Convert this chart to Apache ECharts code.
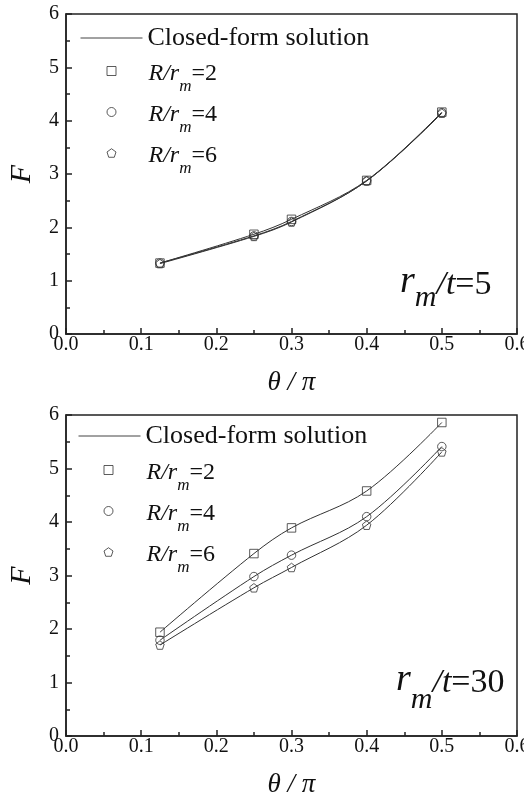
<!DOCTYPE html>
<html><head><meta charset="utf-8">
<script src="https://cdn.jsdelivr.net/npm/echarts@6/dist/echarts.min.js"></script>
<style>html,body{margin:0;padding:0;background:#fff;overflow:hidden}#c{width:524px;height:800px}</style>
</head><body><div id="c"></div>
<script>
// ---- data ----
const thetaX = [0.125, 0.25, 0.3, 0.4, 0.5];
const top_R2 = [1.33, 1.87, 2.15, 2.88, 4.16];
const top_R4 = [1.33, 1.84, 2.11, 2.87, 4.15];
const top_R6 = [1.32, 1.83, 2.10, 2.87, 4.14];
const bot_R2 = [1.94, 3.41, 3.89, 4.58, 5.86];
const bot_R4 = [1.79, 2.98, 3.38, 4.10, 5.41];
const bot_R6 = [1.70, 2.77, 3.15, 3.94, 5.31];
const xTickLabels = ['0.0', '0.1', '0.2', '0.3', '0.4', '0.5', '0.6'];
const yTickLabels = ['0', '1', '2', '3', '4', '5', '6'];
const ratioNames = ['R2', 'R4', 'R6'];
const ratioValues = ['2', '4', '6'];
const panelRatio = ['5', '30'];
const lineName = 'Closed-form solution';

const SERIF = 'Liberation Serif';
const INK = '#111';
const pentagon = 'path://M0,-10 L9.51,-3.09 L5.88,8.09 L-5.88,8.09 L-9.51,-3.09 Z';
const symbols = ['rect', 'circle', pentagon];

function pairs(ys) { return thetaX.map((x, i) => [x, ys[i]]); }

const panels = [[top_R2, top_R4, top_R6], [bot_R2, bot_R4, bot_R6]];
const gridPos = [{ top: 14, height: 320 }, { top: 415, height: 321 }];

const grids = [], xAxes = [], yAxes = [], series = [];
gridPos.forEach((g, gi) => {
  grids.push({ left: 66, right: 7, top: g.top, height: g.height, show: true,
    containLabel: false, outerBoundsMode: 'none',
    borderColor: '#222', borderWidth: 1.5, backgroundColor: 'transparent' });
  xAxes.push({
    gridIndex: gi, type: 'value', min: 0, max: 0.6, interval: 0.1,
    name: 'θ / π', nameLocation: 'middle', nameGap: 35,
    nameTextStyle: { fontFamily: SERIF, fontStyle: 'italic', fontSize: 27, color: INK },
    axisLine: { show: true, lineStyle: { color: '#222', width: 1.5 } },
    axisTick: { show: true, inside: true, length: 6, lineStyle: { color: '#222', width: 1.5 } },
    minorTick: { show: true, splitNumber: 2, length: 4, lineStyle: { color: '#222', width: 1.5 } },
    splitLine: { show: false },
    axisLabel: { margin: 1, fontFamily: SERIF, fontSize: 20, color: INK, hideOverlap: false,
      formatter: v => xTickLabels[Math.round(v * 10)] }
  });
  yAxes.push({
    gridIndex: gi, type: 'value', min: 0, max: 6, interval: 1,
    name: 'F', nameLocation: 'middle', nameGap: 29, nameRotate: 90,
    nameTextStyle: { fontFamily: SERIF, fontStyle: 'italic', fontSize: 30, color: INK },
    axisLine: { show: true, lineStyle: { color: '#222', width: 1.5 } },
    axisTick: { show: true, inside: true, length: 6, lineStyle: { color: '#222', width: 1.5 } },
    minorTick: { show: true, splitNumber: 2, length: 4, lineStyle: { color: '#222', width: 1.5 } },
    splitLine: { show: false },
    axisLabel: { margin: 7, fontFamily: SERIF, fontSize: 20, color: INK,
      formatter: v => yTickLabels[Math.round(v)] }
  });
  panels[gi].forEach(arr => {
    series.push({ type: 'line', name: lineName, xAxisIndex: gi, yAxisIndex: gi,
      data: pairs(arr), smooth: 0.35, symbol: 'none', z: 2,
      lineStyle: { color: '#333', width: 1 } });
  });
  panels[gi].forEach((arr, si) => {
    series.push({ type: 'scatter', name: ratioNames[si], xAxisIndex: gi, yAxisIndex: gi,
      data: pairs(arr), symbol: symbols[si], symbolSize: 8.5, z: 3,
      itemStyle: { color: 'rgba(255,255,255,0)', borderColor: '#333', borderWidth: 1 } });
  });
});

function legendRich(padLeft) {
  return {
    a: { fontFamily: SERIF, fontStyle: 'italic', fontSize: 24, lineHeight: 24, color: INK,
         verticalAlign: 'top', padding: [3, 0, 19, padLeft] },
    s: { fontFamily: SERIF, fontStyle: 'italic', fontSize: 17, lineHeight: 17, color: INK,
         verticalAlign: 'top', padding: [19, 0, 10, 0] },
    b: { fontFamily: SERIF, fontSize: 24, lineHeight: 24, color: INK,
         verticalAlign: 'top', padding: [3, 0, 19, 0] }
  };
}
const legendA = [{ left: 80, top: 25 }, { left: 78, top: 423 }];
const legendB = [{ left: 106.5, top: 59, pad: 27.5 }, { left: 103.5, top: 458, pad: 28.5 }];
const legends = [];
[0, 1].forEach(i => {
  legends.push({ orient: 'vertical', left: legendA[i].left, top: legendA[i].top, padding: 0,
    itemWidth: 62, itemHeight: 10, selectedMode: false, data: [lineName],
    lineStyle: { color: '#444', width: 1 },
    itemStyle: { color: 'rgba(0,0,0,0)', borderWidth: 0, opacity: 0 },
    textStyle: { fontFamily: SERIF, fontSize: 26, lineHeight: 26, color: INK } });
  legends.push({ orient: 'vertical', left: legendB[i].left, top: legendB[i].top, padding: 0,
    itemWidth: 9, itemHeight: 9, itemGap: -5, selectedMode: false, data: ratioNames,
    itemStyle: { borderColor: '#333', borderWidth: 1 },
    formatter: name => '{a|R/r}{s|m}{b|=' + ratioValues[ratioNames.indexOf(name)] + '}',
    textStyle: { fontFamily: SERIF, fontSize: 24, color: INK, rich: legendRich(legendB[i].pad) } });
});

function annoRich(padM) {
  return {
    r: { fontFamily: SERIF, fontStyle: 'italic', fontSize: 38, lineHeight: 38, fill: INK, verticalAlign: 'top' },
    m: { fontFamily: SERIF, fontStyle: 'italic', fontSize: 30, lineHeight: 30, fill: INK, verticalAlign: 'top', padding: [padM, 0, 0, 0] },
    t: { fontFamily: SERIF, fontStyle: 'italic', fontSize: 34, lineHeight: 34, fill: INK, verticalAlign: 'top', padding: [5, 0, 0, 0] },
    e: { fontFamily: SERIF, fontSize: 34, lineHeight: 34, fill: INK, verticalAlign: 'top', padding: [5, 0, 0, 0] }
  };
}
const annoPos = [{ left: 400, top: 263, padM: 20 }, { left: 396, top: 661, padM: 24 }];
const graphics = annoPos.map((p, i) => ({
  type: 'text', left: p.left, top: p.top,
  style: { text: '{r|r}{m|m}{t|/t}{e|=' + panelRatio[i] + '}', rich: annoRich(p.padM), fill: INK }
}));

const chart = echarts.init(document.getElementById('c'), null, { renderer: 'canvas', width: 524, height: 800 });
chart.setOption({
  animation: false,
  backgroundColor: '#fff',
  grid: grids, xAxis: xAxes, yAxis: yAxes, series: series,
  legend: legends, graphic: graphics
});
</script></body></html>
